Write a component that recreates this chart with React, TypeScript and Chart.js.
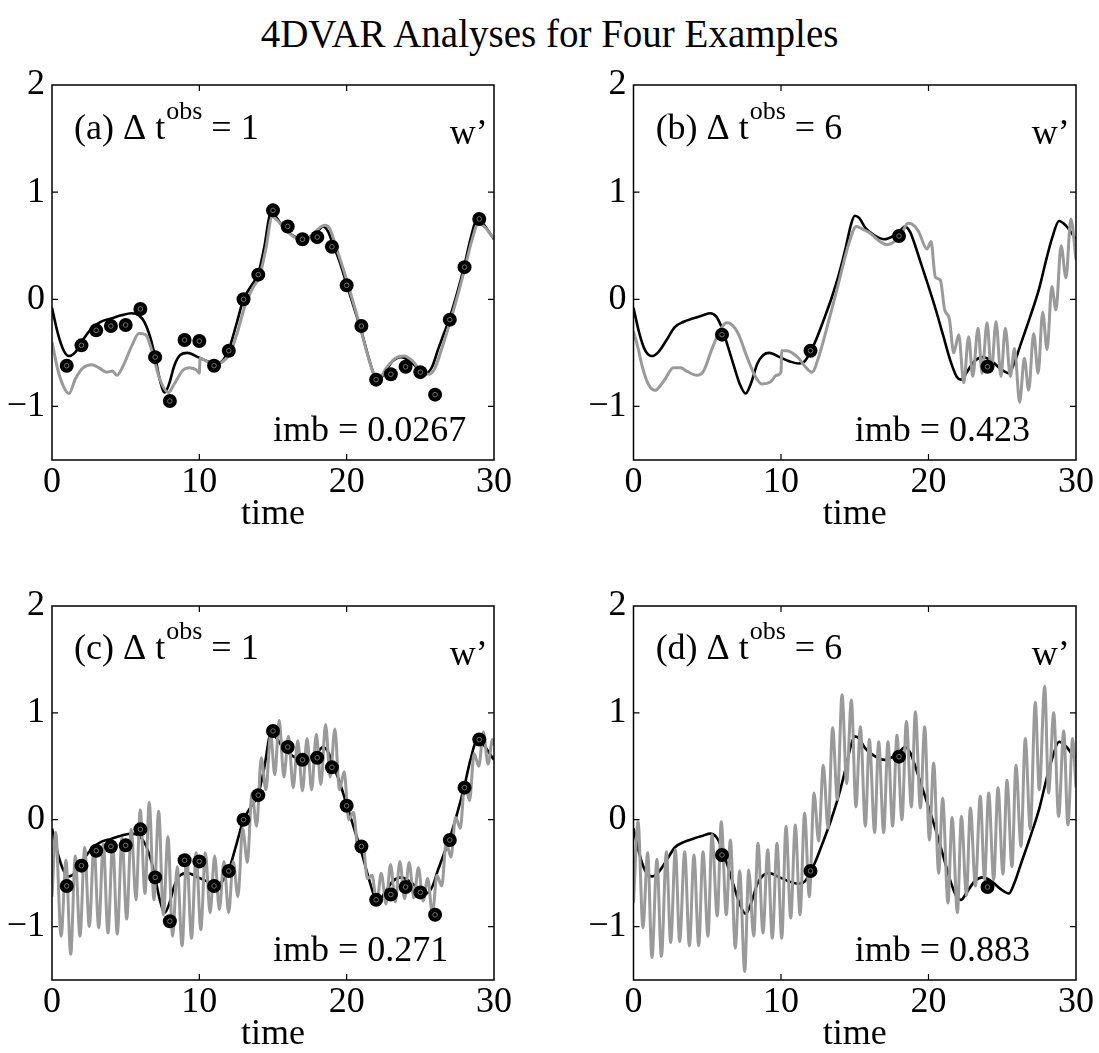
import React, { useEffect, useRef } from 'react';
import { Chart, registerables } from 'chart.js';

Chart.register(...registerables);

const FONT = "'Liberation Serif', 'Times New Roman', Times, serif";

// ---------- text / ticks ----------
const chartTitle = '4DVAR Analyses for Four Examples';
const xAxisLabel = 'time';
const variableLabel = 'w\u2019';
const panelLetters = ['(a)', '(b)', '(c)', '(d)'];
const dtObs = [1, 6, 1, 6];
const imbValues = ['0.0267', '0.423', '0.271', '0.883'];
const xTickValues = [0, 10, 20, 30];
const yTickValues = [-1, 0, 1, 2];

type Pt = [number, number];

// ---------- observations ----------
const obsTimesDense = [1, 2, 3, 4, 5, 6, 7, 8, 9, 10, 11, 12, 13, 14, 15, 16, 17, 18, 19, 20, 21, 22, 23, 24, 25, 26, 27, 28, 29];
const obsValuesDense = [-0.62, -0.43, -0.29, -0.25, -0.24, -0.09, -0.54, -0.95, -0.38, -0.39, -0.62, -0.48, 0.0, 0.23, 0.83, 0.68, 0.56, 0.58, 0.49, 0.13, -0.25, -0.75, -0.70, -0.63, -0.68, -0.89, -0.19, 0.30, 0.75];
const obsTimesSparse = [6, 12, 18, 24];
const obsValuesSparse = [-0.33, -0.48, 0.59, -0.63];

// ---------- black curves (panels a, c) ----------
const truthA: Pt[] = [
  [0, -0.08], [0.4, -0.32], [0.8, -0.48], [1.15, -0.53], [1.6, -0.49], [2.1, -0.38], [2.7, -0.27], [3.3, -0.21],
  [4.0, -0.18], [4.7, -0.15], [5.4, -0.13], [5.9, -0.15], [6.3, -0.22], [6.7, -0.37], [7.0, -0.54], [7.3, -0.74],
  [7.65, -0.87], [7.95, -0.79], [8.3, -0.62], [8.7, -0.52], [9.2, -0.50], [9.9, -0.54], [10.6, -0.58], [11.2, -0.60],
  [11.6, -0.57], [12.0, -0.47], [12.5, -0.24], [13.0, 0.0], [13.5, 0.12], [14.0, 0.24], [14.4, 0.48], [14.85, 0.80],
  [15.2, 0.77], [15.7, 0.67], [16.3, 0.60], [17.0, 0.56], [17.6, 0.59], [18.0, 0.63], [18.4, 0.68], [18.75, 0.63],
  [19.1, 0.50], [19.5, 0.36], [20.0, 0.14], [20.5, -0.08], [21.0, -0.30], [21.5, -0.55], [21.9, -0.72], [22.2, -0.75],
  [22.6, -0.68], [23.1, -0.58], [23.7, -0.54], [24.3, -0.58], [24.9, -0.65], [25.4, -0.69], [25.8, -0.63], [26.2, -0.47],
  [26.6, -0.32], [27.0, -0.17], [27.5, 0.06], [28.0, 0.32], [28.4, 0.56], [28.85, 0.74], [29.3, 0.70], [29.7, 0.62], [30, 0.56],
];

// ---------- black curves (panels b, d) ----------
const truthB: Pt[] = [
  [0, -0.08], [0.4, -0.32], [0.8, -0.48], [1.25, -0.53], [1.7, -0.49], [2.2, -0.39], [2.8, -0.26], [3.4, -0.21],
  [4.0, -0.18], [4.7, -0.15], [5.2, -0.13], [5.6, -0.16], [6.0, -0.27], [6.4, -0.44], [6.8, -0.62], [7.2, -0.79],
  [7.6, -0.88], [7.95, -0.79], [8.4, -0.60], [8.8, -0.52], [9.2, -0.50], [9.9, -0.54], [10.6, -0.58], [11.2, -0.60],
  [11.6, -0.58], [12.0, -0.49], [12.4, -0.37], [12.9, -0.19], [13.4, 0.0], [13.9, 0.22], [14.4, 0.49], [14.75, 0.70],
  [15.0, 0.78], [15.3, 0.76], [15.7, 0.67], [16.3, 0.60], [17.0, 0.56], [17.6, 0.59], [18.0, 0.63], [18.4, 0.68],
  [18.75, 0.63], [19.1, 0.50], [19.5, 0.33], [20.0, 0.12], [20.5, -0.10], [21.0, -0.34], [21.5, -0.58], [21.9, -0.72],
  [22.2, -0.75], [22.6, -0.68], [23.1, -0.58], [23.7, -0.54], [24.3, -0.58], [24.9, -0.65], [25.45, -0.69], [25.8, -0.60],
  [26.3, -0.40], [26.9, -0.16], [27.5, 0.10], [28.0, 0.38], [28.4, 0.58], [28.85, 0.73], [29.3, 0.69], [29.7, 0.62], [30, 0.56],
];

// ---------- grey analyses ----------
const analysisA: Pt[] = [
  [0, -0.40], [0.4, -0.66], [0.8, -0.82], [1.15, -0.88], [1.6, -0.74], [2.1, -0.64], [2.7, -0.61], [3.2, -0.64],
  [3.7, -0.68], [4.1, -0.67], [4.4, -0.71], [4.8, -0.63], [5.4, -0.44], [5.9, -0.32], [6.35, -0.33], [6.8, -0.49],
  [7.3, -0.74], [7.9, -0.87], [8.3, -0.79], [8.9, -0.66], [9.3, -0.64], [9.8, -0.66], [10.0, -0.69], [10.05, -0.55],
  [10.5, -0.58], [11.0, -0.61], [11.5, -0.59], [12.1, -0.50], [12.6, -0.30], [13.1, -0.06], [13.6, 0.10], [14.1, 0.22],
  [14.5, 0.46], [14.95, 0.77], [15.4, 0.72], [16.0, 0.63], [16.6, 0.57], [17.2, 0.56], [17.7, 0.60], [18.1, 0.66],
  [18.5, 0.69], [18.85, 0.66], [19.3, 0.48], [19.8, 0.27], [20.3, 0.04], [20.8, -0.20], [21.3, -0.46], [21.8, -0.68],
  [22.2, -0.74], [22.7, -0.64], [23.3, -0.55], [23.9, -0.53], [24.5, -0.58], [25.1, -0.68], [25.6, -0.70], [26.0, -0.64],
  [26.5, -0.44], [27.0, -0.22], [27.5, 0.02], [28.0, 0.28], [28.5, 0.55], [28.95, 0.71], [29.4, 0.67], [29.8, 0.60], [30, 0.57],
];

const analysisB: Pt[] = [
  [0, -0.30], [0.3, -0.45], [0.6, -0.63], [1.0, -0.79], [1.48, -0.85], [1.8, -0.81], [2.16, -0.74], [2.7, -0.64],
  [3.2, -0.64], [3.6, -0.67], [4.3, -0.71], [4.75, -0.67], [5.3, -0.47], [5.7, -0.34], [6.0, -0.26], [6.3, -0.22],
  [6.6, -0.23], [7.1, -0.32], [7.7, -0.54], [8.26, -0.72], [8.7, -0.79], [9.3, -0.77], [9.7, -0.71], [10.0, -0.68],
  [10.05, -0.48], [10.4, -0.48], [10.75, -0.50], [11.2, -0.55], [11.65, -0.63], [12.1, -0.68], [12.55, -0.54], [13.2, -0.22],
  [13.9, 0.15], [14.6, 0.52], [15.1, 0.68], [15.6, 0.65], [16.0, 0.62], [16.7, 0.54], [17.2, 0.51], [17.7, 0.54],
  [18.2, 0.62], [18.6, 0.71], [18.9, 0.70], [19.3, 0.64], [19.9, 0.47], [20.17, 0.54], [20.46, 0.21], [20.8, 0.18],
  [21.1, -0.10], [21.41, -0.18], [21.71, -0.50], [22.05, -0.33], [22.39, -0.78], [22.72, -0.35], [23.0, -0.72], [23.36, -0.27],
  [23.63, -0.69], [23.97, -0.22], [24.26, -0.67], [24.58, -0.21], [24.91, -0.72], [25.21, -0.27], [25.55, -0.72], [25.83, -0.46],
  [26.18, -0.96], [26.5, -0.55], [26.79, -0.85], [27.13, -0.32], [27.43, -0.69], [27.74, -0.12], [28.04, -0.47], [28.36, 0.12],
  [28.64, -0.10], [28.99, 0.50], [29.32, 0.20], [29.65, 0.75], [30, 0.37],
];

const analysisC: Pt[] = [
  [0, -0.72], [0.25, -0.12], [0.62, -1.09], [0.95, -0.38], [1.27, -1.26], [1.58, -0.34], [1.9, -1.09], [2.22, -0.26],
  [2.53, -1.0], [2.85, -0.25], [3.17, -1.01], [3.48, -0.23], [3.8, -1.06], [4.12, -0.22], [4.43, -1.07], [4.75, -0.17],
  [5.07, -0.93], [5.38, -0.09], [5.7, -0.75], [5.99, 0.09], [6.31, -0.69], [6.6, 0.16], [6.92, -0.75], [7.24, 0.08],
  [7.56, -0.89], [7.87, -0.16], [8.19, -1.09], [8.5, -0.44], [8.83, -1.18], [9.14, -0.33], [9.47, -1.11], [9.78, -0.31],
  [10.1, -1.03], [10.41, -0.31], [10.73, -0.87], [11.04, -0.34], [11.36, -0.84], [11.67, -0.39], [11.99, -0.87], [12.3, -0.39],
  [12.62, -0.72], [12.94, -0.08], [13.26, -0.40], [13.57, 0.25], [13.89, -0.06], [14.2, 0.58], [14.52, 0.28], [14.84, 0.80],
  [15.12, 0.42], [15.42, 0.93], [15.74, 0.40], [16.05, 0.78], [16.37, 0.30], [16.68, 0.74], [17.0, 0.27], [17.31, 0.76],
  [17.62, 0.28], [17.94, 0.80], [18.25, 0.33], [18.57, 0.89], [18.88, 0.40], [19.2, 0.85], [19.51, 0.28], [19.83, 0.45],
  [20.14, 0.0], [20.46, 0.07], [20.78, -0.28], [21.09, -0.22], [21.41, -0.55], [21.72, -0.52], [22.04, -0.78], [22.35, -0.50],
  [22.67, -0.79], [22.98, -0.42], [23.3, -0.77], [23.61, -0.39], [23.93, -0.74], [24.24, -0.40], [24.56, -0.73], [24.87, -0.45],
  [25.19, -0.76], [25.5, -0.55], [25.82, -0.88], [26.13, -0.52], [26.45, -0.62], [26.76, -0.22], [27.08, -0.35], [27.39, 0.02],
  [27.71, -0.08], [28.02, 0.35], [28.34, 0.18], [28.65, 0.62], [28.97, 0.50], [29.28, 0.82], [29.6, 0.52], [29.9, 0.75], [30, 0.70],
];

const analysisD: Pt[] = [
  [0, -0.78], [0.31, -0.02], [0.64, -1.01], [0.96, -0.31], [1.25, -1.29], [1.59, -0.37], [1.89, -1.28], [2.23, -0.30],
  [2.52, -1.15], [2.84, -0.28], [3.13, -1.14], [3.47, -0.30], [3.79, -1.18], [4.1, -0.33], [4.42, -1.18], [4.71, -0.30],
  [5.05, -1.09], [5.32, -0.14], [5.68, -0.90], [5.95, -0.02], [6.29, -0.89], [6.57, -0.19], [6.9, -1.20], [7.2, -0.48],
  [7.54, -1.42], [7.81, -0.47], [8.15, -1.09], [8.44, -0.22], [8.78, -1.06], [9.1, -0.28], [9.41, -1.11], [9.73, -0.22],
  [10.05, -1.11], [10.34, -0.06], [10.66, -0.92], [10.97, -0.05], [11.29, -0.89], [11.6, 0.06], [11.92, -0.72], [12.24, 0.25],
  [12.55, -0.20], [12.87, 0.51], [13.19, -0.08], [13.5, 0.86], [13.82, 0.19], [14.14, 1.17], [14.45, 0.34], [14.77, 1.12],
  [15.08, 0.12], [15.38, 0.87], [15.72, -0.06], [15.99, 0.75], [16.35, -0.12], [16.62, 0.73], [16.96, -0.12], [17.25, 0.73],
  [17.57, -0.06], [17.86, 0.79], [18.2, 0.0], [18.5, 0.92], [18.84, 0.12], [19.11, 1.01], [19.45, 0.11], [19.74, 0.87],
  [20.06, -0.19], [20.35, 0.53], [20.69, -0.50], [20.96, 0.20], [21.32, -0.78], [21.6, 0.02], [21.96, -0.87], [22.23, 0.03],
  [22.57, -0.71], [22.84, 0.11], [23.18, -0.62], [23.51, 0.22], [23.8, -0.56], [24.08, 0.25], [24.42, -0.56], [24.71, 0.30],
  [25.05, -0.51], [25.32, 0.37], [25.66, -0.44], [25.93, 0.51], [26.27, -0.25], [26.56, 0.76], [26.9, -0.09], [27.24, 1.10],
  [27.51, 0.28], [27.88, 1.25], [28.14, 0.25], [28.49, 1.00], [28.82, 0.03], [29.17, 0.83], [29.45, -0.05], [29.77, 0.76], [30, 0.30],
];

// ---------- layout of the four panels (page pixels) ----------
type Box = { left: number; top: number; w: number; h: number; padTop: number; padRight: number; yW: number; xH: number; titlePad: number };
type PanelSpec = { idx: number; truth: Pt[]; analysis: Pt[]; obsT: number[]; obsV: number[]; box: Box };

const panels: PanelSpec[] = [
  { idx: 0, truth: truthA, analysis: analysisA, obsT: obsTimesDense, obsV: obsValuesDense,
    box: { left: 0, top: 60, w: 530, h: 490, padTop: 25, padRight: 36, yW: 52, xH: 90, titlePad: 17 } },
  { idx: 1, truth: truthB, analysis: analysisB, obsT: obsTimesSparse, obsV: obsValuesSparse,
    box: { left: 582, top: 60, w: 517, h: 490, padTop: 25, padRight: 23, yW: 51.5, xH: 90, titlePad: 17 } },
  { idx: 2, truth: truthA, analysis: analysisC, obsT: obsTimesDense, obsV: obsValuesDense,
    box: { left: 0, top: 580, w: 530, h: 473, padTop: 26, padRight: 36, yW: 52, xH: 73, titlePad: 0 } },
  { idx: 3, truth: truthB, analysis: analysisD, obsT: obsTimesSparse, obsV: obsValuesSparse,
    box: { left: 582, top: 580, w: 517, h: 473, padTop: 26, padRight: 23, yW: 51.5, xH: 73, titlePad: 0 } },
];

const toXY = (arr: Pt[]) => arr.map(([x, y]) => ({ x, y }));

function Panel({ spec }: { spec: PanelSpec }) {
  const ref = useRef<HTMLCanvasElement | null>(null);
  useEffect(() => {
    const canvas = ref.current;
    if (!canvas) return;
    const { box, idx } = spec;
    const obsPts = spec.obsT.map((t, i) => ({ x: t, y: spec.obsV[i] }));

    const framePlugin = {
      id: 'frameAndText',
      afterDraw(chart: any) {
        const { ctx, chartArea } = chart;
        const { left, right, top, bottom } = chartArea;
        const xs = chart.scales.x;
        const ys = chart.scales.y;
        ctx.save();
        ctx.strokeStyle = '#000';
        ctx.lineWidth = 1.5;
        ctx.strokeRect(left, top, right - left, bottom - top);
        ctx.lineWidth = 1.2;
        const tl = 6;
        ctx.beginPath();
        xs.ticks.forEach((t: any) => {
          const px = xs.getPixelForValue(t.value);
          if (px <= left + 1 || px >= right - 1) return;
          ctx.moveTo(px, bottom); ctx.lineTo(px, bottom - tl);
          ctx.moveTo(px, top); ctx.lineTo(px, top + tl);
        });
        ys.ticks.forEach((t: any) => {
          const py = ys.getPixelForValue(t.value);
          if (py <= top + 1 || py >= bottom - 1) return;
          ctx.moveTo(left, py); ctx.lineTo(left + tl, py);
          ctx.moveTo(right, py); ctx.lineTo(right - tl, py);
        });
        ctx.stroke();

        ctx.fillStyle = '#000';
        ctx.textBaseline = 'alphabetic';
        ctx.textAlign = 'left';
        // panel label with superscript
        let cx = xs.getPixelForValue(1.5);
        const by = ys.getPixelForValue(1.5);
        ctx.font = `36px ${FONT}`;
        const s1 = `${panelLetters[idx]} \u0394 t`;
        ctx.fillText(s1, cx, by);
        cx += ctx.measureText(s1).width + 1;
        ctx.font = `26px ${FONT}`;
        ctx.fillText('obs', cx, by - 20);
        cx += ctx.measureText('obs').width;
        ctx.font = `36px ${FONT}`;
        ctx.fillText(` = ${dtObs[idx]}`, cx, by);
        // variable name
        ctx.fillText(variableLabel, xs.getPixelForValue(27), ys.getPixelForValue(1.45));
        // imbalance
        ctx.fillText(`imb = ${imbValues[idx]}`, xs.getPixelForValue(15), ys.getPixelForValue(-1.32));
        ctx.restore();
      },
    };

    const chart = new Chart(canvas, {
      type: 'line',
      data: {
        datasets: [
          { label: 'obs centre', data: obsPts, showLine: false, pointRadius: 2.3, pointBackgroundColor: 'rgba(0,0,0,0)',
            pointBorderColor: '#7d7d7d', pointBorderWidth: 0.9, order: 0 } as any,
          { label: 'observations', data: obsPts, showLine: false, pointRadius: 7, pointBackgroundColor: '#000',
            pointBorderWidth: 0, order: 1 } as any,
          { label: 'analysis', data: toXY(spec.analysis), borderColor: '#9a9a9a', borderWidth: 3, pointRadius: 0,
            cubicInterpolationMode: 'monotone', fill: false, order: 2 } as any,
          { label: 'truth', data: toXY(spec.truth), borderColor: '#000', borderWidth: 2.6, pointRadius: 0,
            cubicInterpolationMode: 'monotone', fill: false, order: 3 } as any,
        ],
      },
      options: {
        animation: false,
        responsive: false,
        maintainAspectRatio: false,
        events: [],
        layout: { padding: { top: box.padTop, right: box.padRight, left: 0, bottom: 0 } },
        plugins: { legend: { display: false }, tooltip: { enabled: false }, title: { display: false } },
        scales: {
          x: {
            type: 'linear', min: 0, max: 30,
            afterBuildTicks: (s: any) => { s.ticks = xTickValues.map((v) => ({ value: v })); },
            afterFit: (s: any) => { s.height = box.xH; },
            grid: { display: false, drawTicks: false },
            border: { display: false },
            ticks: { padding: 5, color: '#000', autoSkip: false, maxRotation: 0,
              font: { family: FONT, size: 36, lineHeight: 1 } },
            title: { display: true, text: xAxisLabel, color: '#000',
              font: { family: FONT, size: 36, lineHeight: 1 }, padding: { top: 0, bottom: box.titlePad } },
          },
          y: {
            type: 'linear', min: -1.5, max: 2,
            afterBuildTicks: (s: any) => { s.ticks = yTickValues.map((v) => ({ value: v })); },
            afterFit: (s: any) => { s.width = box.yW; },
            grid: { display: false, drawTicks: false },
            border: { display: false },
            ticks: { padding: 7, color: '#000', autoSkip: false,
              font: { family: FONT, size: 36, lineHeight: 0.8 },
              callback: (v: any) => (Number(v) < 0 ? '\u2212' + Math.abs(Number(v)) : String(v)) },
          },
        },
      } as any,
      plugins: [framePlugin],
    });
    return () => chart.destroy();
  }, [spec]);

  const { box } = spec;
  return (
    <canvas
      ref={ref}
      width={box.w}
      height={box.h}
      style={{ position: 'absolute', left: box.left, top: box.top, width: box.w, height: box.h, display: 'block' }}
    />
  );
}

export default function App() {
  return (
    <div style={{ position: 'absolute', left: 0, top: 0, width: 1099, height: 1053, overflow: 'hidden', background: '#fff' }}>
      <div
        style={{
          position: 'absolute', left: 0, top: 14, width: 1099, textAlign: 'center',
          fontFamily: FONT, fontSize: 39, lineHeight: '39px', color: '#000', whiteSpace: 'nowrap',
        }}
      >
        {chartTitle}
      </div>
      {panels.map((p) => (
        <Panel key={p.idx} spec={p} />
      ))}
    </div>
  );
}
